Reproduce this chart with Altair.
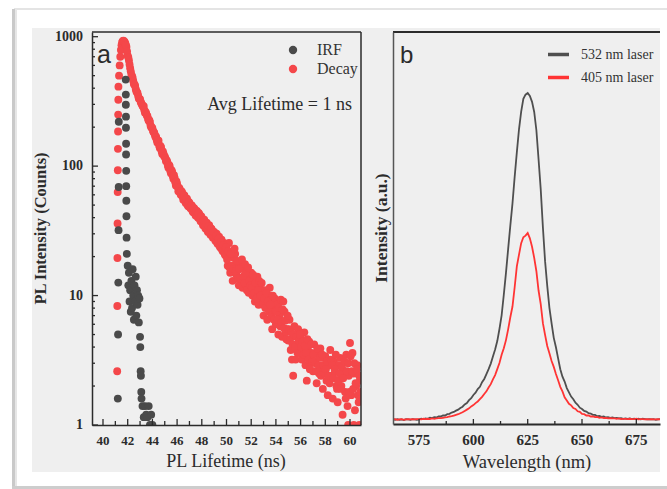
import altair as alt
import numpy as np
import pandas as pd

# ---------------- panel a: time-resolved PL ----------------
# decay counts on the 0.1 ns TCSPC grid, first bin at 41.8 ns
decay_start = 41.8
decay_counts = [
    890, 832, 712, 655, 571, 509, 482, 431, 418, 379, 366, 333,
    329, 306, 293, 291, 258, 255, 243, 224, 219, 200,
    196, 183, 174, 169, 152, 157, 138, 140, 124, 125,
    119, 109, 108, 97, 100, 88, 90, 80, 81, 71,
    73, 64, 67, 60, 63, 55, 59, 52, 56, 49,
    52, 47, 49.5, 44, 47, 41.5, 45, 40, 42.5, 37.5,
    40, 35, 38.5, 33, 36.5, 31, 35, 29.5, 32.5, 28,
    31, 26.5, 30, 25, 28.5, 23.5, 27, 22, 25.5, 20.5,
    24, 17, 25.5, 15, 20, 13, 19.5, 21, 14.5, 17.5,
    12, 18, 16.5, 11.5, 14, 17.5, 12, 15.5, 10.5, 14,
    15, 10, 13.5, 9, 11.5, 14, 8.5, 12, 9.5, 10.5,
    7, 11, 8.5, 6.5, 10, 11.5, 9, 5.5, 8, 9.5,
    6, 8.5, 5, 7, 9.3, 4.8, 9.0, 7.5, 5.2, 5.5,
    4.5, 6.5, 3.8, 3.2, 2.4, 5.8, 3.2, 4.2, 5.5, 3.6,
    4.8, 3.2, 4, 5.2, 2.9, 2.2, 3.8, 4.4, 3, 3.6,
    2.6, 4.2, 3, 2.1, 3.6, 2.5, 3.9, 2.8, 1.9, 3.3,
    3.4, 2.2, 1.7, 2.9, 3.8, 2.4, 1.6, 3.1, 2.6, 2,
    1.5, 2.9, 3.3, 2, 1.2, 2.6, 1.8, 3.5, 1.4, 2.4,
    4.3, 1.7, 3.6, 2.5, 1.3, 2, 2.9, 1.5, 2.2, 1.6,
]
# interleaved half-bins, first at 41.85 ns
half_start = 41.85
half_counts = [
    865, 770, 690, 610, 540, 495, 455, 428, 395, 372, 348, 331,
    315, 300, 288, 270, 262, 246, 231, 226, 206, 199,
    187, 181, 168, 159, 158, 144, 143, 130, 130, 119,
    115, 111, 101, 102, 92, 93, 84, 85, 75, 76,
    69, 68, 62, 64, 58, 60, 54, 56, 50, 53,
    48, 50, 45, 47.5, 43, 45, 41, 43.5, 39, 41,
    37, 38, 34, 36, 32, 34.5, 31, 33, 29, 31,
    28, 29, 25.5, 27.5, 24, 26, 22.5, 24.5, 21, 23.5,
    19, 22, 16.5, 21, 17, 16, 23, 15.5, 18.5, 13.5,
    16, 13.5, 19, 14, 12.5, 15, 11, 16.5, 13, 12,
    11.5, 14.5, 10.5, 12.5, 9.5, 11, 13, 10, 12.5, 8.5,
    9.5, 8, 10.5, 9, 7.5, 8.5, 7, 10, 6.5, 7.5,
    7.5, 6.5, 8, 5.8, 6.2, 7.8, 5.6, 6.4, 4.6, 7,
    5.5, 4.6, 5.2, 4.2, 5, 4, 4.8, 3.6, 4.5, 5,
    4, 4.4, 3.5, 4.1, 3.6, 4.6, 3.2, 2.7, 4.2, 3.1,
    3.5, 3.1, 2.6, 3.9, 2.9, 3.3, 2.4, 3.5, 2.9, 2.5,
    2.7, 3.1, 2.4, 2.1, 3.2, 2.9, 2.3, 2.7, 3.5, 1.9,
    2.2, 2.5, 1.9, 2.8, 2.3, 3.1, 1.6, 2.6, 3, 1.8,
    3.4, 2.6, 1.9, 3.0, 2.1, 2.7, 1.7, 2.4, 1.8,
]
# rising edge of the decay and a few single-count bins at the end
rise_t = [41.15, 41.16, 41.17, 41.18, 41.19, 41.20, 41.21, 41.22, 41.23, 41.24, 41.25,
          41.30, 41.35, 41.40, 41.45, 41.50, 41.55, 41.60, 41.65, 41.70, 41.75,
          59.85, 60.30, 60.75]
rise_c = [2.6, 8.3, 19.5, 36, 63, 93, 136, 185, 250, 326, 411,
          500, 600, 700, 790, 860, 905, 925, 930, 922, 910,
          1.0, 1.0, 1.0]

# instrument response function
irf_t = [41.20, 41.22, 41.24, 41.26, 41.27, 41.28,
         41.84, 41.85, 41.85, 41.86, 41.86, 41.87, 41.87, 41.88, 41.88, 41.89, 41.90, 41.91, 41.93,
         42.00, 42.05, 42.10, 42.15, 42.20, 42.25, 42.30, 42.35, 42.40, 42.45,
         42.50, 42.55, 42.60, 42.65, 42.70, 42.75, 42.80, 42.85, 42.90, 42.95,
         43.00, 43.02, 43.05, 43.07, 43.10, 43.12, 43.20, 43.30, 43.40, 43.50,
         43.60, 43.70, 43.80, 43.90, 44.00]
irf_c = [1.6, 5.0, 12.6, 32, 69, 220,
         466, 357, 298, 241, 198, 149, 123, 92, 70, 54, 41, 28, 21,
         17, 12, 15, 9, 11, 7.5, 13, 8, 16, 10,
         6.5, 12, 9, 14, 7, 11, 8.5, 10, 6.2, 9.5,
         4.8, 4.0, 2.6, 2.4, 1.8, 1.6, 1.4, 1.15, 1.4, 1.2,
         1.15, 1.4, 1.0, 1.2, 1.0]

# ---------------- panel b: steady-state PL spectra ----------------
wl_start = 563  # 1 nm steps
pl_532 = [
    0.003, 0.002, 0.004, 0.002, 0.003, 0.001, 0.004, 0.003, 0.002, 0.004, 0.003, 0.002,
    0.003, 0.005, 0.004, 0.006, 0.005, 0.008, 0.007, 0.010, 0.009, 0.012,
    0.012, 0.015, 0.015, 0.019, 0.020, 0.024, 0.026, 0.030, 0.033, 0.038,
    0.042, 0.049, 0.053, 0.062, 0.068, 0.078, 0.085, 0.096, 0.103, 0.117,
    0.127, 0.142, 0.157, 0.174, 0.196, 0.217, 0.243, 0.280, 0.322, 0.385,
    0.452, 0.525, 0.597, 0.665, 0.746, 0.821, 0.892, 0.946, 0.985, 0.998,
    1.003, 0.994, 0.976, 0.945, 0.889, 0.800, 0.708, 0.592, 0.488, 0.412,
    0.345, 0.297, 0.253, 0.224, 0.190, 0.157, 0.134, 0.119, 0.099, 0.086,
    0.073, 0.065, 0.054, 0.048, 0.039, 0.035, 0.029, 0.027, 0.022, 0.021,
    0.017, 0.017, 0.013, 0.014, 0.011, 0.012, 0.009, 0.010, 0.008, 0.009,
    0.007, 0.008, 0.006, 0.007, 0.005, 0.006, 0.005, 0.006, 0.004, 0.005,
    0.004, 0.005, 0.003, 0.005, 0.004, 0.003, 0.004, 0.003, 0.004, 0.002,
    0.003, 0.004, 0.003,
]
pl_405 = [
    0.003, 0.004, 0.002, 0.003, 0.004, 0.002, 0.003, 0.004, 0.003, 0.004, 0.003, 0.004,
    0.004, 0.003, 0.005, 0.004, 0.005, 0.004, 0.006, 0.005, 0.006, 0.007,
    0.007, 0.008, 0.009, 0.010, 0.012, 0.013, 0.015, 0.017, 0.019, 0.022,
    0.025, 0.029, 0.033, 0.037, 0.043, 0.047, 0.053, 0.058, 0.065, 0.072,
    0.081, 0.089, 0.101, 0.111, 0.126, 0.139, 0.157, 0.176, 0.201, 0.221,
    0.246, 0.279, 0.316, 0.349, 0.408, 0.472, 0.508, 0.543, 0.561, 0.566,
    0.574, 0.558, 0.532, 0.498, 0.457, 0.398, 0.356, 0.298, 0.262, 0.228,
    0.206, 0.182, 0.164, 0.142, 0.123, 0.103, 0.089, 0.071, 0.061, 0.051,
    0.046, 0.038, 0.035, 0.028, 0.026, 0.020, 0.019, 0.015, 0.015, 0.012,
    0.012, 0.010, 0.011, 0.008, 0.009, 0.007, 0.008, 0.006, 0.007, 0.006,
    0.006, 0.005, 0.006, 0.004, 0.005, 0.005, 0.004, 0.005, 0.004, 0.004,
    0.005, 0.003, 0.004, 0.004, 0.003, 0.004, 0.003, 0.004, 0.003, 0.003,
    0.004, 0.003, 0.003,
]

# axis tick positions
a_x_major = list(range(40, 61, 2))
a_x_minor = list(range(41, 60, 2))
a_y_major = [1, 10, 100, 1000]
a_y_minor = [m * d for d in (1, 10, 100) for m in range(2, 10)]
b_x_major = [575, 600, 625, 650, 675]
b_x_minor = [587.5, 612.5, 637.5, 662.5]

# ---------------- tables ----------------
decay_t = np.round(decay_start + 0.1 * np.arange(len(decay_counts)), 2)
half_t = np.round(half_start + 0.1 * np.arange(len(half_counts)), 2)
trpl = pd.concat([
    pd.DataFrame({"t": rise_t, "c": rise_c, "series": "Decay"}),
    pd.DataFrame({"t": decay_t, "c": decay_counts, "series": "Decay"}),
    pd.DataFrame({"t": half_t, "c": half_counts, "series": "Decay"}),
    pd.DataFrame({"t": irf_t, "c": irf_c, "series": "IRF"}),
], ignore_index=True)

wl = wl_start + np.arange(len(pl_532))
spectra = pd.concat([
    pd.DataFrame({"wl": wl, "I": pl_532, "laser": "532 nm laser"}),
    pd.DataFrame({"wl": wl, "I": pl_405, "laser": "405 nm laser"}),
], ignore_index=True)

# ---------------- styling ----------------
SERIF = "Liberation Serif"
SANS = "Liberation Sans"
INK = "#2b2b2b"
PANEL_BG = "#efefef"
RED_PT = "#f4474a"
GRAY_PT = "#4a4a4a"
RED_LN = "#ff3434"
GRAY_LN = "#4f4f4f"

WA, HA = 269, 393
WB, HB = 267, 392

one = pd.DataFrame({"k": [0]})

# axes only draw the domain lines; tick labels and titles are text marks below
ax_a_x = alt.Axis(labels=False, ticks=False, grid=False, zindex=1, title=None,
                  domainColor=INK, domainWidth=1.5)
ax_a_y = alt.Axis(labels=False, ticks=False, grid=False, zindex=1, title=None,
                  domainColor=INK, domainWidth=1.5)
ax_b_x = alt.Axis(labels=False, ticks=False, grid=False, zindex=1, title=None,
                  domainColor=INK, domainWidth=1.8)
ax_b_y = alt.Axis(labels=False, ticks=False, grid=False, zindex=1, title=None,
                  domainColor="#555", domainWidth=1.5)


def block(x, x2, y, y2, color):
    return alt.Chart(one).mark_rect(color=color, clip=False).encode(
        x=alt.value(x), x2=alt.value(x2), y=alt.value(y), y2=alt.value(y2))


def label(text, x, y, size, font=SERIF, align="left", weight="normal", angle=0):
    return alt.Chart(one).mark_text(
        text=text, font=font, fontSize=size, color=INK, align=align, angle=angle,
        baseline="alphabetic", fontWeight=weight).encode(x=alt.value(x), y=alt.value(y))


def rules(vals, chan, scale, axis, a, b, width=1.3):
    df = pd.DataFrame({"v": vals})
    if chan == "x":
        enc = dict(x=alt.X("v:Q", scale=scale, axis=axis), y=alt.value(a), y2=alt.value(b))
    else:
        enc = dict(y=alt.Y("v:Q", scale=scale, axis=axis), x=alt.value(a), x2=alt.value(b))
    return alt.Chart(df).mark_rule(color=INK, strokeWidth=width).encode(**enc)


def tick_labels(vals, chan, scale, axis, pos, size):
    df = pd.DataFrame({"v": vals})
    if chan == "x":
        mark = alt.Chart(df).mark_text(font=SERIF, fontWeight="bold", fontSize=size, color=INK,
                                       align="center", baseline="alphabetic")
        enc = dict(x=alt.X("v:Q", scale=scale, axis=axis), y=alt.value(pos))
    else:
        mark = alt.Chart(df).mark_text(font=SERIF, fontWeight="bold", fontSize=size, color=INK,
                                       align="right", baseline="middle")
        enc = dict(y=alt.Y("v:Q", scale=scale, axis=axis), x=alt.value(pos))
    return mark.encode(text=alt.Text("v:Q", format="d"), **enc)


# ---------------- panel a ----------------
sx_a = alt.Scale(domain=[39.11, 60.89], nice=False, zero=False)
sy_a = alt.Scale(type="log", domain=[1, 1087], nice=False)

points = alt.Chart(trpl).mark_circle(size=62, opacity=1, clip=True).encode(
    x=alt.X("t:Q", scale=sx_a, axis=ax_a_x),
    y=alt.Y("c:Q", scale=sy_a, axis=ax_a_y),
    color=alt.Color("series:N", scale=alt.Scale(domain=["IRF", "Decay"], range=[GRAY_PT, RED_PT]),
                    legend=alt.Legend(orient="none", legendX=193, legendY=10, title=None,
                                      symbolType="circle", symbolSize=70, symbolStrokeWidth=0,
                                      labelFont=SERIF, labelFontSize=16, labelColor="#333",
                                      labelOffset=16, rowPadding=3, padding=0)),
    order=alt.Order("series:N", sort="ascending"),
)

panel_a = alt.layer(
    block(-92, -60, -32, 457, "white"),           # card margins around the grey ground
    block(-92, 575, -32, -4, "white"),
    block(-92, 575, 440, 457, "white"),
    block(-78, 575, -24, -22, "#e4e4e4"),         # card edge, top
    block(-80, -77, -23, 457, "#c9c9c9"),         # card shadow, left
    block(-77, -75, -23, 457, "#e6e6e6"),
    block(-80, 575, 454, 457, "#cdcdcd"),         # card shadow, bottom
    points,
    rules(a_y_major, "y", sy_a, ax_a_y, 0, 6),
    rules(a_y_minor, "y", sy_a, ax_a_y, 0, 3),
    rules(a_x_major, "x", sx_a, ax_a_x, HA, HA - 6),
    rules(a_x_minor, "x", sx_a, ax_a_x, HA, HA - 4),
    tick_labels(a_x_major, "x", sx_a, ax_a_x, HA + 20, 13),
    tick_labels(a_y_major, "y", sy_a, ax_a_y, -9, 14),
    block(0, WA, -0.75, 0.75, INK),                 # frame top
    block(WA - 0.75, WA + 0.75, 0, HA, INK),        # frame right
    label("PL Lifetime (ns)", 134, HA + 42, 18, align="center"),
    label("PL Intensity (Counts)", -46, HA / 2, 16.5, align="center", weight="bold", angle=270),
    label("a", 5, 31, 25, font=SANS),
    label("Avg Lifetime = 1 ns", 260, 78, 18, align="right"),
).properties(width=WA, height=HA)

# ---------------- panel b ----------------
sx_b = alt.Scale(domain=[563.0, 685.9], nice=False, zero=False)
sy_b = alt.Scale(domain=[-0.011, 1.19], nice=False, zero=False)

lines = alt.Chart(spectra).mark_line(strokeWidth=1.8, clip=True).encode(
    x=alt.X("wl:Q", scale=sx_b, axis=ax_b_x),
    y=alt.Y("I:Q", scale=sy_b, axis=ax_b_y),
    color=alt.Color("laser:N",
                    scale=alt.Scale(domain=["532 nm laser", "405 nm laser"], range=[GRAY_LN, RED_LN]),
                    legend=alt.Legend(orient="none", legendX=153, legendY=10, title=None,
                                      symbolType="stroke", symbolSize=441, symbolStrokeWidth=3.5,
                                      labelFont=SERIF, labelFontSize=14, labelColor="#333",
                                      labelOffset=10, rowPadding=3, padding=0)),
)

panel_b = alt.layer(
    block(WB, WB + 7, -4, 440, "white"),            # card margin, right
    lines,
    rules(b_x_major, "x", sx_b, ax_b_x, HB, HB - 5),
    rules(b_x_minor, "x", sx_b, ax_b_x, HB, HB - 3),
    tick_labels(b_x_major, "x", sx_b, ax_b_x, HB + 21, 15),
    block(0, WB, -1, 1, INK),                       # frame top
    label("Wavelength (nm)", 134, HB + 44, 18.5, align="center"),
    label("Intensity (a.u.)", -6, HB / 2, 17.5, align="center", weight="bold", angle=270),
    label("b", 7, 31, 24, font=SANS),
).properties(width=WB, height=HB)

chart = alt.hconcat(panel_a, panel_b, spacing=32, bounds="flush").resolve_scale(
    color="independent").resolve_legend(color="independent").configure(
    background=PANEL_BG,
    padding={"left": 0, "top": 0, "right": 0, "bottom": 0},
).configure_view(stroke=None)

chart.save("out.html", embed_options={"renderer": "svg", "actions": False})
